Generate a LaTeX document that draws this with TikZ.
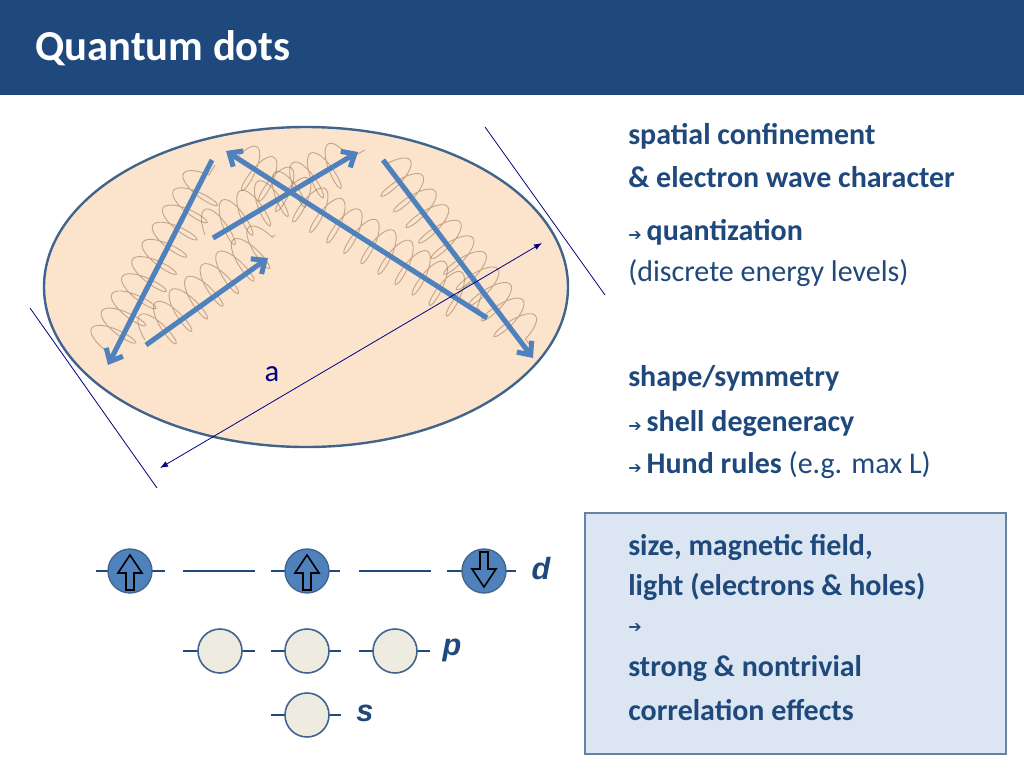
\documentclass[tikz,border=0pt]{standalone}
\usepackage{fontspec}
\setmainfont{Carlito}
\newfontfamily\arrfont{DejaVu Sans}
\newfontfamily\labfont{Liberation Sans}
\usetikzlibrary{arrows.meta,decorations.pathmorphing}
\definecolor{titleblue}{RGB}{31,73,125}
\definecolor{arrowblue}{RGB}{79,129,189}
\definecolor{dotfill}{RGB}{252,228,204}
\definecolor{rimblue}{RGB}{65,100,140}
\definecolor{boxfill}{RGB}{220,230,242}
\definecolor{emptyfill}{RGB}{238,236,225}
\definecolor{wavebrown}{RGB}{150,115,85}
\newcommand{\arr}{{\arrfont\bfseries\large ➔}\,}
\begin{document}
\begin{tikzpicture}[x=0.75pt,y=-0.75pt,
   txt/.style={anchor=west,text=titleblue,font=\fontsize{22.5}{26}\selectfont\bfseries,inner sep=0},
   bounce/.style={draw=arrowblue,line width=3.8pt,-{Straight Barb[length=8pt,width=14pt]}},
   wave/.style={draw=wavebrown,opacity=0.55,line width=0.7pt,decorate,decoration={coil,amplitude=17pt,segment length=15pt,aspect=0.3}},
   full/.style={circle,draw=rimblue,line width=1pt,fill=arrowblue,minimum size=33pt,inner sep=0},
   empty/.style={circle,draw=rimblue,line width=1.2pt,fill=emptyfill,minimum size=33pt,inner sep=0},
   level/.style={draw=titleblue,line width=1.4pt},
   lab/.style={text=titleblue,font=\labfont\fontsize{23}{25}\selectfont\bfseries\itshape}]
   \useasboundingbox (0,0) rectangle (1024,768);
   \fill[white] (0,0) rectangle (1024,768);
   % title bar
   \fill[titleblue] (0,0) rectangle (1024,95);
   \node[anchor=west,text=white,font=\fontsize{32}{36}\selectfont\bfseries,inner sep=0] (title) at (35,48) {Quantum dots};
   % the dot
   \draw[rimblue,line width=1.8pt,fill=dotfill] (306,287) ellipse (262 and 160);
   \path[wave] (105,350) -- (215,165);
   \path[wave] (145,340) -- (275,235);
   \path[wave] (205,235) -- (365,150);
   \path[wave] (235,160) -- (480,310);
   \path[wave] (385,165) -- (530,345);
   \coordinate (b1) at (212,160); \coordinate (e1) at (108,365);
   \coordinate (b2) at (146,345); \coordinate (e2) at (268,258);
   \coordinate (b3) at (213,238); \coordinate (e3) at (358,152);
   \coordinate (b4) at (487,318); \coordinate (e4) at (226,151);
   \coordinate (b5) at (383,160); \coordinate (e5) at (533,358);
   \foreach \i in {1,...,5} \draw[bounce] (b\i) -- (e\i);
   % size a
   \coordinate (t1) at (485,127); \coordinate (t2) at (605,295);
   \coordinate (t3) at (30,308); \coordinate (t4) at (157,488);
   \draw[blue!50!black,line width=0.6pt] (t1) -- (t2) (t3) -- (t4);
   \coordinate (a1) at (160,468); \coordinate (a2) at (542,243);
   \draw[blue!50!black,line width=0.6pt,{Latex[length=6pt]}-{Latex[length=6pt]}] (a1) -- (a2);
   \node[text=blue!50!black,font=\fontsize{23}{25}\selectfont] (alab) at (272,374) {a};
   % texts
   \node[txt] (conf) at (628,136) {spatial confinement};
   \node[txt] (wavech) at (628,177) {\& electron wave character};
   \node[txt] (quant) at (628,232) {\arr quantization};
   \node[txt,font=\fontsize{22.5}{26}\selectfont] (discr) at (628,273) {(discrete energy levels)};
   \node[txt] (shape) at (628,378) {shape/symmetry};
   \node[txt] (shell) at (628,424) {\arr shell degeneracy};
   \node[txt] (hund) at (628,465) {\arr Hund rules \mdseries(e.g. max L)};
   \draw[rimblue!80,line width=0.8pt,fill=boxfill] (585,513) rectangle (1006,754);
   \node[txt] (size) at (628,547) {size, magnetic field,};
   \node[txt] (light) at (628,587) {light (electrons \& holes)};
   \node[txt] (lead) at (628,628) {\arr};
   \node[txt] (strong) at (628,669) {strong \& nontrivial};
   \node[txt] (corr) at (628,710) {correlation effects};
   % shells
   \draw[level] (96,571) -- (165,571) (183,571) -- (255,571) (271,571) -- (340,571)
      (359,571) -- (431,571) (447,571) -- (516,571);
   \draw[level] (183,651) -- (255,651) (271,651) -- (341,651) (359,651) -- (430,651);
   \draw[level] (271,715) -- (341,715);
   \node[full] (d1) at (130,571) {};
   \node[full] (d2) at (307,571) {};
   \node[full] (d3) at (484,571) {};
   \foreach \n in {d1,d2}
      \draw[black,line width=1.2pt,fill=arrowblue,shift={(\n.center)}]
         (-4,19) -- (-4,2) -- (-12,2) -- (0,-16) -- (12,2) -- (4,2) -- (4,19) -- cycle;
   \draw[black,line width=1.2pt,fill=arrowblue,shift={(d3.center)}]
         (-4,-19) -- (-4,-2) -- (-12,-2) -- (0,16) -- (12,-2) -- (4,-2) -- (4,-19) -- cycle;
   \node[empty] (p1) at (220,651) {};
   \node[empty] (p2) at (307,651) {};
   \node[empty] (p3) at (395,651) {};
   \node[empty] (s1) at (307,715) {};
   \node[lab] (dlab) at (541,569) {d};
   \node[lab] (plab) at (452,650) {p};
   \node[lab] (slab) at (365,713) {s};
\end{tikzpicture}
\end{document}
